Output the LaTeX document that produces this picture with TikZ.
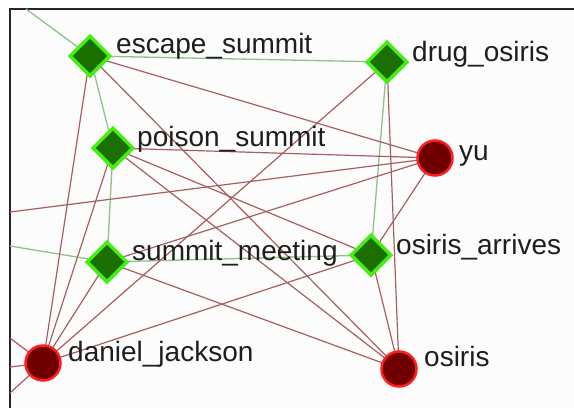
\documentclass[tikz,border=0pt]{standalone}
\usepackage{fontspec}
\setmainfont{Liberation Sans}
\usetikzlibrary{shapes.geometric,backgrounds}
\definecolor{dgreen}{HTML}{1B6E00}
\definecolor{lgreen}{HTML}{44EE11}
\definecolor{dred}{HTML}{700000}
\definecolor{lred}{HTML}{FF1E1E}
\definecolor{gedge}{HTML}{8CC388}
\definecolor{redge}{HTML}{A85E5E}
\definecolor{lbl}{HTML}{1E1E1E}
\begin{document}
\begin{tikzpicture}[x=1pt,y=-1pt,
  event/.style={diamond, fill=dgreen, draw=lgreen, line width=3.5pt, minimum width=41pt, minimum height=41pt, inner sep=0pt},
  agent/.style={circle, fill=dred, draw=lred, line width=2.5pt, minimum size=35pt, inner sep=0pt},
  lab/.style={anchor=base west, inner sep=0pt, text=lbl, font=\fontsize{28}{30}\selectfont},
  gl/.style={gedge, line width=1.3pt},
  rl/.style={redge, line width=1.2pt}]
\useasboundingbox (0,0) rectangle (574,408);
% nodes
\node[event] (es) at (90,56) {};
\node[event] (do) at (387,62) {};
\node[event] (ps) at (113,148) {};
\node[agent] (yu) at (435,158) {};
\node[event] (sm) at (107,262) {};
\node[event] (oa) at (371,255) {};
\node[agent] (dj) at (43,363) {};
\node[agent] (os) at (399,369) {};
% labels
\node[lab] (esl) at (116,53) {escape\_summit};
\node[lab] (dol) at (412,61) {drug\_osiris};
\node[lab] (psl) at (137,146.5) {poison\_summit};
\node[lab] (yul) at (459,160) {yu};
\node[lab] (sml) at (132,260) {summit\_meeting};
\node[lab] (oal) at (396,254) {osiris\_arrives};
\node[lab] (djl) at (68,361.5) {daniel\_jackson};
\node[lab] (osl) at (424,366.5) {osiris};
% free ends
\coordinate (T1) at (26,9);
\coordinate (L1) at (10,246);
\coordinate (L2) at (10,212);
\coordinate (L3) at (10,338);
\coordinate (L4) at (10,367);
\coordinate (L5) at (10,393);
\begin{scope}[on background layer]
\fill[white] (0,0) rectangle (574,408);
\fill[white!99!black] (10,9) rectangle (574,408);
\draw[line width=2pt, black!85] (10,408) -- (10,9) -- (574,9);
% green edges
\draw[gl] (es.center) -- (T1);
\draw[gl] (es.center) -- (do.center);
\draw[gl] (es.center) -- (ps.center);
\draw[gl] (ps.center) -- (sm.center);
\draw[gl] (sm.center) -- (L1);
\draw[gl] (sm.center) -- (oa.center);
\draw[gl] (do.center) -- (oa.center);
% red edges
\draw[rl] (es.center) -- (yu.center);
\draw[rl] (es.center) -- (dj.center);
\draw[rl] (es.center) -- (os.center);
\draw[rl] (ps.center) -- (yu.center);
\draw[rl] (ps.center) -- (dj.center);
\draw[rl] (ps.center) -- (os.center);
\draw[rl] (ps.center) -- (oa.center);
\draw[rl] (sm.center) -- (dj.center);
\draw[rl] (sm.center) -- (yu.center);
\draw[rl] (sm.center) -- (os.center);
\draw[rl] (do.center) -- (dj.center);
\draw[rl] (do.center) -- (os.center);
\draw[rl] (yu.center) -- (L2);
\draw[rl] (yu.center) -- (oa.center);
\draw[rl] (oa.center) -- (dj.center);
\draw[rl] (oa.center) -- (os.center);
\draw[rl] (dj.center) -- (L3);
\draw[rl] (dj.center) -- (L4);
\draw[rl] (dj.center) -- (L5);
\end{scope}
\end{tikzpicture}
\end{document}
